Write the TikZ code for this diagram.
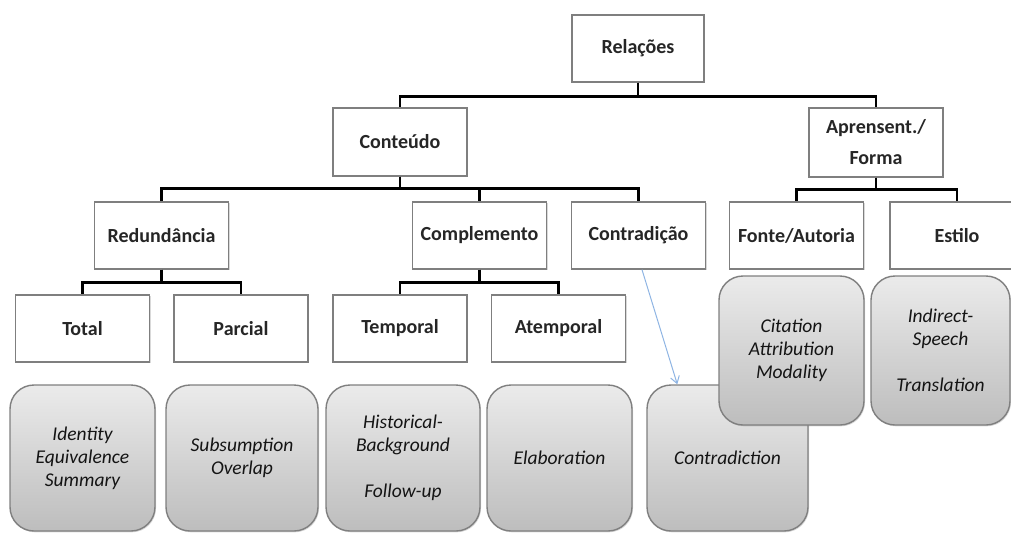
\documentclass[tikz,border=0pt]{standalone}
\usepackage{fontspec}
\setmainfont{Carlito}
\usetikzlibrary{arrows.meta,shadows}
\definecolor{boxline}{HTML}{7F7F7F}
\definecolor{ink}{HTML}{262626}
\definecolor{leafink}{HTML}{141414}
\definecolor{linkblue}{HTML}{8EB4E3}
\definecolor{shadetop}{HTML}{EBEBEB}
\definecolor{shadebot}{HTML}{BDBDBD}
\tikzset{
  softshadow/.style={drop shadow={shadow xshift=1pt, shadow yshift=-1.3pt, opacity=0.3}},
  catbox/.style={draw=boxline, line width=1.4pt, fill=white, inner sep=0pt,
    minimum width=134pt, minimum height=67pt, align=center, text=ink,
    font=\fontsize{20}{24}\selectfont\bfseries, softshadow},
  leafbox/.style={draw=boxline, line width=1.4pt, rounded corners=24pt,
    top color=shadetop, bottom color=shadebot, inner sep=0pt, align=center,
    text=leafink, font=\fontsize{19.5}{23}\selectfont\itshape, softshadow},
  tree/.style={line width=2.6pt, black},
  link/.style={draw=linkblue, line width=1pt, -{Straight Barb[length=7pt,width=9pt]}},
}
\begin{document}
\begin{tikzpicture}[x=1pt,y=-1pt]
\useasboundingbox (0,0) rectangle (1011,533);
\clip (0,0) rectangle (1011,533);

% level 1 and 2
\node[catbox, minimum width=132pt] (rel) at (638,48.5) {Relações};
\node[catbox, minimum height=68pt] (cont) at (400,142) {Conteúdo};
\node[catbox, minimum height=69pt] (apr) at (876,142.5) {Aprensent./\\[7pt]Forma};

% level 3
\node[catbox] (red)   at (161.5,235.5) {Redundância};
\node[catbox] (comp)  at (479.5,235.5) {Complemento};
\node[catbox] (contr) at (638.5,235.5) {Contradição};
\node[catbox] (fonte) at (796.5,235.5) {Fonte/Autoria};
\node[catbox] (est)   at (957,235.5)   {Estilo};

% level 4
\node[catbox] (total) at (82.5,328.5)  {Total};
\node[catbox] (parc)  at (241,328.5)   {Parcial};
\node[catbox] (temp)  at (400,328.5)   {Temporal};
\node[catbox] (atemp) at (558.5,328.5) {Atemporal};

% relation types
\node[leafbox, minimum width=145pt, minimum height=146pt] (r1) at (82.5,458) {Identity\\Equivalence\\Summary};
\node[leafbox, minimum width=152pt, minimum height=146pt] (r2) at (242,458) {Subsumption\\Overlap};
\node[leafbox, minimum width=154pt, minimum height=146pt] (r3) at (403,458) {Historical-\\Background\\[23pt]Follow-up};
\node[leafbox, minimum width=145pt, minimum height=146pt] (r4) at (559.5,458) {Elaboration};
\node[leafbox, minimum width=161pt, minimum height=146pt] (r5) at (727.5,458) {Contradiction};
\node[leafbox, minimum width=145pt, minimum height=149pt] (r6) at (791.5,350.5) {Citation\\Attribution\\Modality};
\node[leafbox, minimum width=139pt, minimum height=149pt] (r7) at (940.5,350.5) {Indirect-\\Speech\\[23pt]Translation};

% tree connectors
\draw[tree] (rel.south) -- ++(0,14) -| (cont.north);
\draw[tree] (rel.south) -- ++(0,14) -| (apr.north);
\draw[tree] (cont.south) -- ++(0,12) -| (red.north);
\draw[tree] (cont.south) -- ++(0,12) -| (comp.north);
\draw[tree] (cont.south) -- ++(0,12) -| (contr.north);
\draw[tree] (apr.south) -- ++(0,12) -| (fonte.north);
\draw[tree] (apr.south) -- ++(0,12) -| (est.north);
\draw[tree] (red.south) -- ++(0,13) -| (total.north);
\draw[tree] (red.south) -- ++(0,13) -| (parc.north);
\draw[tree] (comp.south) -- ++(0,13) -| (temp.north);
\draw[tree] (comp.south) -- ++(0,13) -| (atemp.north);

% contradiction link
\draw[link] ([xshift=3.5pt]contr.south) -- ([xshift=31pt]r5.north west);
\end{tikzpicture}
\end{document}
